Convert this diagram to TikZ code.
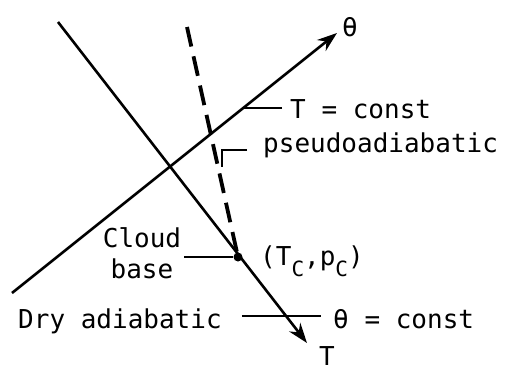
\documentclass[tikz,border=0pt]{standalone}
\usepackage{fontspec}
\setmonofont{DejaVu Sans Mono}
\usetikzlibrary{arrows.meta}
\tikzset{
    lbl/.style={font=\ttfamily\fontsize{26}{31}\selectfont, inner sep=0pt},
    axis/.style={line width=2.6pt, -{Stealth[length=20pt, width=14pt]}},
    leader/.style={line width=2.4pt},
    pseudo/.style={line width=3.8pt, dash pattern=on 20pt off 10pt}
}
\newcommand{\lowsub}[1]{\raisebox{-0.45em}{\fontsize{21}{21}\selectfont #1}}

\begin{document}
\begin{tikzpicture}[x=1pt, y=-1pt]
\useasboundingbox (0,0) rectangle (507,373);
\coordinate (thstart) at (12,293);
\coordinate (thend) at (337,33);
\coordinate (tstart) at (58,22);
\coordinate (tend) at (307,343);
\coordinate (pstart) at (187,27);
\coordinate (onth) at (243,108);
\coordinate (hook) at (247,150);
\node[circle, fill, inner sep=0pt, minimum size=9pt] (cb) at (238,257) {};
\node[lbl] (thlab) at (350,27) {θ};
\node[lbl, anchor=south] (tlab) at (327,366) {T};
\node[lbl, anchor=base west] (tconst) at (290,118) {T = const};
\node[lbl, anchor=base west] (pseudo) at (263,152) {pseudoadiabatic};
\node[lbl, align=center] (cloud) at (142,253) {Cloud\\base};
\node[lbl, anchor=base west] (tc) at (260,265) {(T\lowsub{C},p\lowsub{C})};
\node[lbl, anchor=base west] (dry) at (18,328) {Dry adiabatic};
\node[lbl, anchor=base west] (thconst) at (333,328) {θ = const};
\draw[axis] (thstart) -- (thend);
\draw[axis] (tstart) -- (tend);
\draw[pseudo] (pstart) -- (cb);
\draw[leader] ([xshift=-8pt,yshift=10pt]tconst.base west) -- (onth);
\draw[leader] (hook) -| ++(-25,17);
\draw[leader] ([xshift=3pt]cloud.east |- cb) -- (cb);
\draw[leader] ([xshift=20pt,yshift=12pt]dry.base east) -- ([xshift=-12pt,yshift=12pt]thconst.base west);
\end{tikzpicture}
\end{document}
